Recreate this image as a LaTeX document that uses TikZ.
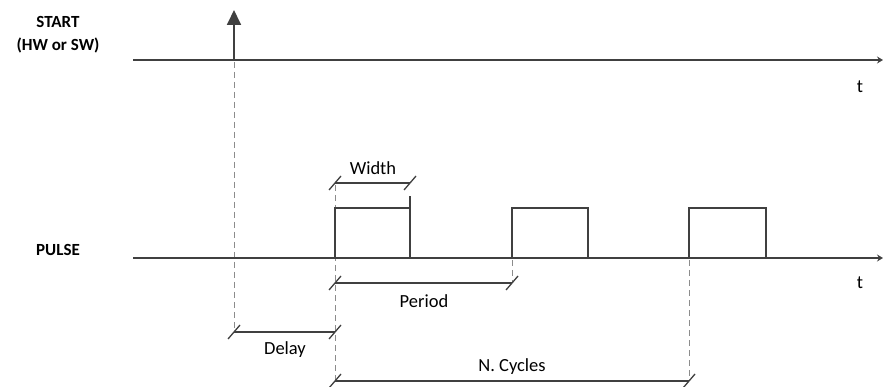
\documentclass[tikz,border=0pt]{standalone}
\usepackage{fontspec}
\setmainfont{Carlito}
\usetikzlibrary{arrows.meta}
\definecolor{ink}{HTML}{404040}
\definecolor{guide}{HTML}{8C8C8C}
\begin{document}
\begin{tikzpicture}[x=1pt,y=-1pt,
  axis/.style={draw=ink,line width=1.6pt,-{Stealth[length=6pt,width=7pt]}},
  sig/.style={draw=ink,line width=1.8pt},
  guideline/.style={draw=guide,line width=1pt,dash pattern=on 6pt off 4pt},
  dimline/.style={draw=ink,line width=1.6pt},
  lbl/.style={font=\fontsize{18.5}{20}\selectfont,text=black,inner sep=0pt},
  head/.style={font=\fontsize{17}{21}\selectfont\bfseries,text=black,inner sep=0pt,align=center}]
\useasboundingbox (0,0) rectangle (883,387);

% extension lines (drawn first, so the signal edges sit on top)
\draw[guideline] (234,62) -- (234,333);
\draw[guideline] (335,185) -- (335,381);
\draw[guideline] (512,260) -- (512,283);
\draw[guideline] (689,260) -- (689,381);
\draw[ink,line width=1.4pt] (410,208) -- (410,196);

% time axes
\coordinate (s0) at (133,60);  \coordinate (s1) at (883,60);
\coordinate (p0) at (133,258); \coordinate (p1) at (883,258);
\draw[axis] (s0) -- (s1);
\draw[axis] (p0) -- (p1);

% start impulse
\coordinate (imp0) at (234,60); \coordinate (imp1) at (234,10);
\draw[sig,-{Triangle[length=15pt,width=14pt]}] (imp0) -- (imp1);

% pulse train
\draw[sig] (335,258) -- (335,208) -- (410,208) -- (410,258);
\draw[sig] (512,258) -- (512,208) -- (588,208) -- (588,258);
\draw[sig] (689,258) -- (689,208) -- (766,208) -- (766,258);

% dimension lines with slash ticks
\newcommand{\dimbar}[3]{%
  \coordinate (#1a) at (#2);
  \coordinate (#1b) at (#3);
  \draw[dimline] (#1a) -- (#1b);
  \draw[dimline,line width=1.3pt] ([shift={(-6,7)}]#1a) -- ([shift={(6,-7)}]#1a);
  \draw[dimline,line width=1.3pt] ([shift={(-6,7)}]#1b) -- ([shift={(6,-7)}]#1b);}
\dimbar{w}{335,183}{410,183}
\dimbar{per}{335,283}{512,283}
\dimbar{del}{234,332}{335,332}
\dimbar{nc}{335,381}{689,381}

% labels
\node[lbl] (lw) at (373,168) {Width};
\node[lbl] (lp) at (424,301) {Period};
\node[lbl] (ld) at (285,350) {Delay};
\node[lbl] (ln) at (512,367) {N. Cycles};
\node[lbl] (t1) at (860,87) {t};
\node[lbl] (t2) at (860,283) {t};
\node[head] (hs) at (58,22) {START};
\node[head] (hs2) at (58,45) {(HW or SW)};
\node[head] (hp) at (58,250) {PULSE};
\end{tikzpicture}
\end{document}
